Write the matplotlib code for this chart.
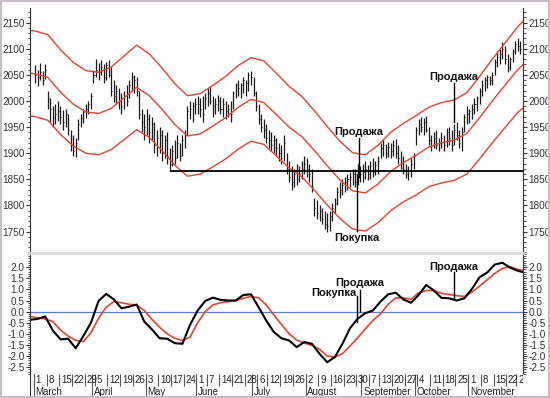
import matplotlib.pyplot as plt
import pandas as pd
from matplotlib.patches import Rectangle

plt.rcParams['font.family'] = ['Liberation Sans', 'DejaVu Sans']

# trading days, 1999 (exchange holidays removed)
holidays = ['1999-04-02', '1999-05-31', '1999-07-05', '1999-09-06', '1999-11-25']
days = pd.bdate_range('1999-03-01', '1999-11-30', freq='C', holidays=holidays)
month_names = ['March', 'April', 'May', 'June', 'July', 'August',
               'September', 'October', 'November']

# daily bars
high = [2068, 2060, 2072, 2058, 2070, 2020, 2005, 1990, 1995, 2000,
        1990, 1982, 1985, 1975, 1945, 1935, 1930, 1965, 1975, 1985,
        1995, 2000, 2015, 2060, 2080, 2072, 2078, 2070, 2075, 2078,
        2065, 2040, 2030, 2025, 2015, 2020, 2030, 2040, 2055, 2050,
        2045, 2020, 1985, 1975, 1985, 1975, 1970, 1960, 1945, 1950,
        1945, 1935, 1940, 1910, 1915, 1925, 1935, 1920, 1935, 1945,
        1990, 2000, 1998, 2005, 2010, 2005, 2010, 2015, 2025, 2028,
        2010, 2005, 2012, 2008, 2005, 2000, 1995, 2000, 2020, 2035,
        2040, 2035, 2045, 2040, 2055, 2058, 2045, 2020, 1995, 1975,
        1965, 1955, 1945, 1940, 1935, 1930, 1920, 1915, 1935, 1900,
        1885, 1875, 1870, 1880, 1875, 1885, 1895, 1890, 1880, 1870,
        1815, 1810, 1800, 1795, 1790, 1785, 1790, 1805, 1815, 1835,
        1845, 1850, 1855, 1860, 1865, 1870, 1870, 1880, 1875, 1880,
        1885, 1878, 1885, 1890, 1885, 1895, 1920, 1925, 1918, 1922,
        1920, 1925, 1928, 1915, 1905, 1895, 1880, 1875, 1890, 1900,
        1950, 1965, 1970, 1968, 1972, 1950, 1935, 1940, 1945, 1930,
        1940, 1935, 1948, 1950, 1945, 1955, 1960, 1945, 1950, 1975,
        1990, 1985, 1995, 2005, 2010, 2025, 2040, 2045, 2050, 2048,
        2055, 2080, 2095, 2100, 2112, 2105, 2090, 2085, 2100, 2115,
        2120, 2115]
low = [2035, 2028, 2040, 2030, 2042, 1985, 1960, 1950, 1955, 1962,
       1955, 1945, 1950, 1935, 1905, 1895, 1893, 1925, 1950, 1958,
       1968, 1975, 1985, 2035, 2045, 2040, 2050, 2035, 2040, 2045,
       2010, 1998, 1995, 1985, 1975, 1985, 1990, 2005, 2020, 2015,
       2010, 1965, 1940, 1925, 1935, 1920, 1925, 1900, 1895, 1900,
       1885, 1890, 1880, 1866, 1875, 1880, 1890, 1885, 1895, 1910,
       1935, 1965, 1960, 1975, 1975, 1970, 1960, 1985, 1990, 1995,
       1970, 1975, 1980, 1975, 1970, 1965, 1970, 1960, 1985, 2005,
       2010, 2005, 2015, 2010, 2020, 2030, 2010, 1980, 1955, 1940,
       1930, 1920, 1910, 1905, 1900, 1895, 1885, 1880, 1885, 1860,
       1845, 1830, 1835, 1840, 1845, 1850, 1860, 1855, 1845, 1825,
       1780, 1775, 1770, 1765, 1755, 1750, 1752, 1770, 1785, 1800,
       1815, 1820, 1825, 1830, 1835, 1840, 1835, 1840, 1845, 1845,
       1850, 1848, 1850, 1855, 1858, 1860, 1890, 1895, 1890, 1892,
       1890, 1895, 1890, 1880, 1870, 1860, 1852, 1848, 1855, 1870,
       1915, 1935, 1940, 1935, 1940, 1915, 1905, 1910, 1908, 1905,
       1910, 1905, 1912, 1915, 1905, 1915, 1925, 1910, 1905, 1940,
       1955, 1958, 1965, 1975, 1980, 1995, 2010, 2020, 2025, 2030,
       2030, 2050, 2065, 2070, 2080, 2070, 2055, 2060, 2075, 2090,
       2095, 2090]
close = [2050, 2045, 2055, 2040, 2060, 2005, 1985, 1970, 1975, 1980,
         1970, 1960, 1975, 1945, 1915, 1905, 1920, 1955, 1968, 1978,
         1985, 1995, 2010, 2050, 2060, 2055, 2065, 2045, 2068, 2050,
         2020, 2010, 2020, 2000, 1990, 2010, 2000, 2030, 2045, 2040,
         2020, 1975, 1960, 1950, 1965, 1940, 1955, 1915, 1930, 1935,
         1900, 1925, 1895, 1880, 1905, 1890, 1920, 1895, 1925, 1935,
         1980, 1985, 1990, 1995, 1995, 1985, 1975, 2005, 2015, 2000,
         1990, 1995, 2000, 1985, 1995, 1980, 1985, 1975, 2015, 2030,
         2025, 2030, 2040, 2035, 2050, 2045, 2015, 1990, 1965, 1950,
         1945, 1930, 1925, 1915, 1925, 1910, 1900, 1890, 1920, 1870,
         1855, 1845, 1860, 1850, 1860, 1870, 1880, 1870, 1860, 1835,
         1795, 1785, 1790, 1775, 1765, 1760, 1780, 1795, 1805, 1825,
         1830, 1840, 1845, 1850, 1855, 1860, 1845, 1870, 1860, 1865,
         1870, 1860, 1875, 1865, 1878, 1885, 1910, 1915, 1900, 1912,
         1905, 1915, 1900, 1890, 1880, 1870, 1860, 1868, 1880, 1895,
         1945, 1955, 1950, 1960, 1945, 1925, 1915, 1930, 1915, 1920,
         1930, 1915, 1940, 1930, 1915, 1945, 1935, 1920, 1940, 1970,
         1975, 1980, 1985, 1995, 2005, 2020, 2030, 2040, 2045, 2040,
         2050, 2075, 2085, 2090, 2100, 2080, 2065, 2080, 2095, 2110,
         2105, 2100]

# moving-average envelope (sampled weekly)
env_days = [-2, 0, 5, 10, 15, 20, 25, 30, 35, 40, 45, 50, 55, 60, 65, 70,
            75, 80, 85, 90, 95, 100, 105, 110, 115, 120, 125, 130, 135,
            140, 145, 150, 155, 160, 165, 170, 175, 180, 185, 190, 192]
env_mid = [2053, 2052, 2045, 2017, 1994, 1979, 1976, 1986, 2006, 2026, 2010,
           1984, 1955, 1933, 1937, 1952, 1968, 1988, 2003, 1997, 1974, 1950,
           1932, 1905, 1876, 1849, 1828, 1824, 1841, 1865, 1882, 1896, 1912,
           1920, 1925, 1938, 1968, 2000, 2030, 2060, 2069]
env_upper = [2135, 2134, 2127, 2098, 2074, 2058, 2055, 2065, 2086, 2107, 2090,
             2063, 2033, 2010, 2014, 2030, 2047, 2068, 2083, 2077, 2053, 2028,
             2009, 1981, 1951, 1923, 1901, 1897, 1915, 1940, 1957, 1972, 1988,
             1997, 2002, 2016, 2047, 2080, 2111, 2142, 2152]
env_lower = [1971, 1970, 1963, 1936, 1914, 1900, 1897, 1907, 1926, 1945, 1930,
             1905, 1877, 1856, 1860, 1874, 1889, 1908, 1923, 1917, 1895, 1872,
             1855, 1829, 1801, 1775, 1755, 1751, 1767, 1790, 1807, 1820, 1836,
             1843, 1848, 1860, 1889, 1920, 1949, 1978, 1986]
support_level = 1866
support_start = 53

# oscillator (sampled every 3 trading days)
osc_days = list(range(-2, 191, 3)) + [192]
osc_main = [-0.37, -0.33, -0.22, -0.85, -1.25, -1.22, -1.65, -1.1, -0.5, 0.48,
            0.8, 0.55, 0.15, 0.22, 0.32, -0.45, -0.8, -1.2, -1.22, -1.42,
            -1.45, -0.6, 0.05, 0.48, 0.63, 0.53, 0.5, 0.5, 0.75, 0.78,
            0.2, -0.4, -0.92, -1.2, -1.3, -1.6, -1.37, -1.45, -1.9, -2.28,
            -2.05, -1.45, -0.75, -0.32, -0.07, 0.05, 0.45, 0.78, 0.85, 0.55,
            0.4, 0.75, 1.2, 0.95, 0.62, 0.6, 0.5, 0.6, 1.02, 1.55,
            1.76, 2.12, 2.2, 1.98, 1.84, 1.78]
osc_signal = [-0.22, -0.28, -0.33, -0.45, -0.83, -1.1, -1.3, -1.35, -0.95, -0.3,
              0.2, 0.45, 0.4, 0.33, 0.3, 0.05, -0.35, -0.7, -1.0, -1.2,
              -1.3, -1.15, -0.5, 0.0, 0.3, 0.4, 0.45, 0.5, 0.6, 0.68,
              0.62, 0.3, -0.15, -0.58, -1.0, -1.28, -1.42, -1.52, -1.7, -2.0,
              -2.05, -1.9, -1.55, -1.18, -0.78, -0.4, -0.1, 0.33, 0.62, 0.62,
              0.55, 0.85, 0.95, 0.95, 0.82, 0.77, 0.72, 0.68, 0.88, 1.15,
              1.43, 1.72, 1.95, 2.03, 1.9, 1.85]

RED = '#e5432f'
GRID = '#333333'

fig = plt.figure(figsize=(5.5, 3.98), dpi=100)
ax1 = fig.add_axes([30/550, 1-253/398, 493/550, 245/398])
ax2 = fig.add_axes([30/550, 1-374/398, 493/550, 121/398], sharex=ax1)
ax3 = fig.add_axes([30/550, 1-397/398, 493/550, 23/398], sharex=ax1)

idx = list(range(len(days)))

# price panel
ax1.vlines(idx, low, high, color='#1a1a1a', lw=0.9)
ax1.hlines(close, idx, [i + 0.4 for i in idx], color='#1a1a1a', lw=0.7)
for band in (env_upper, env_mid, env_lower):
    ax1.plot(env_days, band, color=RED, lw=1.0)
ax1.hlines(support_level, support_start, 200, color='black', lw=1.3)

ax1.plot([127.6, 127.6], [1930, 1855], color='black', lw=1.0)
ax1.plot([126.6, 126.6], [1752, 1860], color='black', lw=1.0)
ax1.plot([165, 165], [2034, 1960], color='black', lw=1.0)
ann = dict(fontsize=8, fontweight='bold', color='#111111', ha='center')
ax1.text(127.6, 1932, 'Продажа', va='bottom', **ann)
ax1.text(126.6, 1748, 'Покупка', va='top', **ann)
ax1.text(165, 2036, 'Продажа', va='bottom', **ann)

ax1.set_xlim(-2, 192.1)
ax1.set_ylim(1709, 2178)
ax1.set_yticks(range(1750, 2151, 50))
ax1.set_yticks(range(1710, 2180, 10), minor=True)

# oscillator panel
ax2.axhline(0, color='#5b7fc4', lw=0.9)
ax2.plot(osc_days, osc_signal, color=RED, lw=1.2)
ax2.plot(osc_days, osc_main, color='black', lw=1.5)
ax2.plot([126.6, 126.6], [0.72, -0.45], color='black', lw=1.0)
ax2.plot([128.0, 128.0], [0.98, 0.0], color='black', lw=1.0)
ax2.plot([165, 165], [1.79, 0.62], color='black', lw=1.0)
ax2.text(126.4, 0.84, 'Покупка', va='center', fontsize=8, fontweight='bold',
         color='#111111', ha='right')
ax2.text(128.0, 1.29, 'Продажа', va='center', **ann)
ax2.text(165, 2.01, 'Продажа', va='center', **ann)
ax2.set_ylim(-2.81, 2.64)
ax2.set_yticks([-2.5, -2.0, -1.5, -1.0, -0.5, 0.0, 0.5, 1.0, 1.5, 2.0])
ax2.set_yticks([v / 10 for v in range(-28, 27)], minor=True)
ax2.yaxis.set_major_formatter(plt.FuncFormatter(lambda v, p: f'{v:.1f}'))

for ax in (ax1, ax2):
    ax.tick_params(axis='y', which='both', left=True, right=True,
                   labelleft=True, labelright=True, direction='out',
                   labelsize=7.2, colors=GRID, pad=1)
    ax.tick_params(axis='y', which='major', length=3)
    ax.tick_params(axis='y', which='minor', length=1.8)
    ax.tick_params(axis='x', which='both', bottom=False, labelbottom=False)
    ax.spines['left'].set_color(GRID)
    ax.spines['right'].set_color(GRID)
    ax.spines['left'].set_linewidth(0.8)
    ax.spines['right'].set_linewidth(0.8)
ax1.spines['top'].set_visible(False)
ax1.spines['bottom'].set_visible(False)
ax2.spines['top'].set_color('#dcdcdc')
ax2.spines['top'].set_linewidth(2)
ax2.spines['bottom'].set_color('#888888')

# date axis
ax3.set_ylim(0, 2)
ax3.set_yticks([])
ax3.tick_params(axis='x', which='both', bottom=False, labelbottom=False)
for s in ('top', 'bottom', 'right'):
    ax3.spines[s].set_visible(False)
ax3.spines['left'].set_color(GRID)
ax3.spines['left'].set_linewidth(0.8)

week_key = days.isocalendar().week.values
first_week = [i for i in idx if i == 0 or week_key[i] != week_key[i - 1]]
first_month = [i for i in idx if i == 0 or days[i].month != days[i - 1].month]
for i in first_week:
    ax3.vlines(i - 0.5, 1, 2, color='#555555', lw=0.8)
    ax3.text(i + 0.2, 1.45, str(days[i].day), fontsize=7, color='#222222',
             va='center', ha='left', clip_on=True)
for k, i in enumerate(first_month):
    ax3.vlines(i - 0.5, 0, 2, color='#555555', lw=0.8)
    ax3.text(i + 0.2, 0.45, month_names[k], fontsize=7, color='#222222',
             va='center', ha='left', clip_on=True)

fig.patches.append(Rectangle((0, 0), 1, 1, transform=fig.transFigure,
                             fill=False, edgecolor='#c6bec6', lw=3))

fig.savefig('out.png', dpi=100)
